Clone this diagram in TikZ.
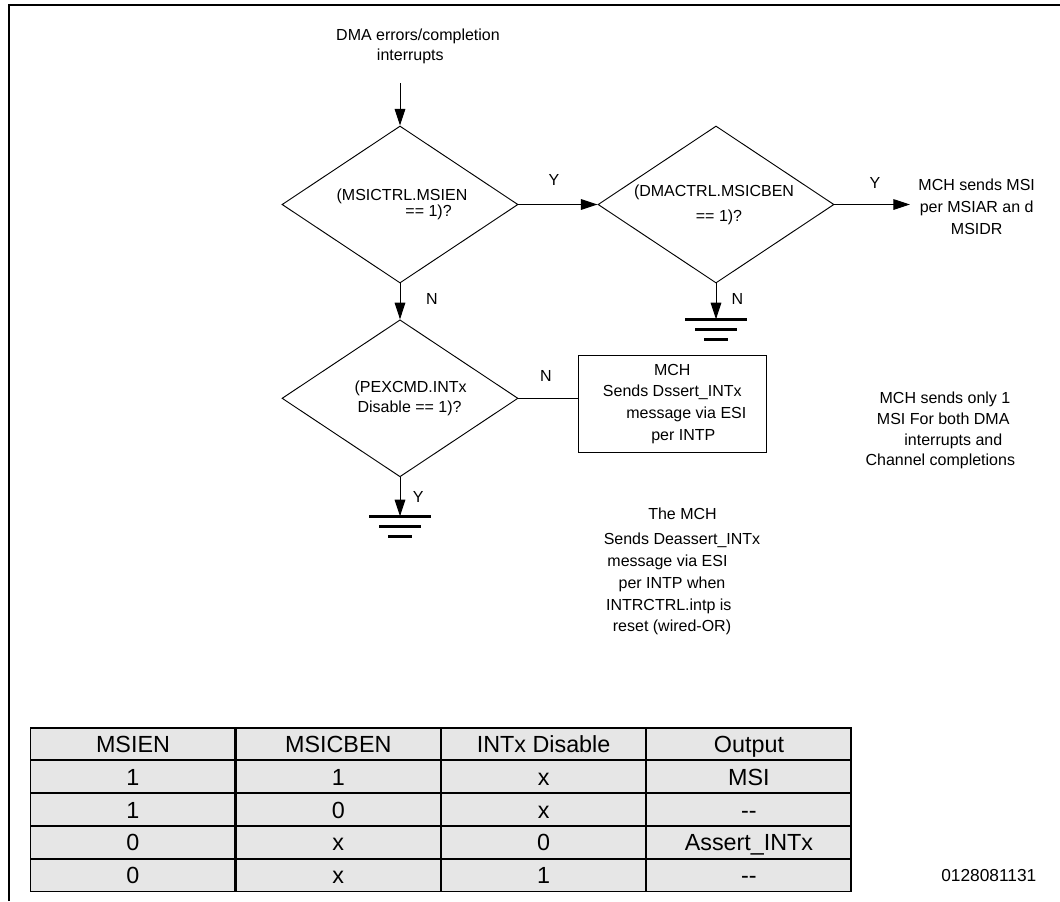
\documentclass[tikz,border=0pt]{standalone}
\usepackage{fontspec}
\setmainfont{Liberation Sans}
\usetikzlibrary{shapes.geometric,arrows.meta,matrix}
\definecolor{tblgray}{RGB}{230,230,230}
\newcommand{\sline}[2]{\makebox[0pt]{\hspace*{#1}#2}}
\begin{document}
\begin{tikzpicture}[x=0.75pt,y=-0.75pt,
  every node/.style={font=\fontsize{12pt}{16.3pt}\selectfont},
  lbl/.style={inner sep=0pt, align=center},
  dia/.style={diamond, draw, line width=0.7pt, minimum width=177pt, minimum height=117.75pt, inner sep=0pt, align=center},
  msgbox/.style={rectangle, draw, line width=0.7pt, minimum width=140.5pt, minimum height=73.3pt, inner sep=0pt, align=center},
  flow/.style={line width=0.75pt, -{Triangle[length=12.5pt,width=8pt]}},
  plain/.style={line width=0.75pt},
  gnd/.style={line width=2pt},
  frame/.style={line width=1.5pt},
  cell/.style={draw, fill=tblgray, line width=0.9pt, minimum width=153.1pt, minimum height=23.8pt, inner sep=0pt, outer sep=0pt, font=\fontsize{17.5pt}{20pt}\selectfont, text height=12.6pt, text depth=0pt}
]
\useasboundingbox (0,0) rectangle (1060,901);
\draw[frame] (9,901) -- (9,5) -- (1060,5);

% texts
\node[lbl] (t0) at (418,46.3) {\sline{0pt}{DMA errors/completion}\\[-0.8pt]\sline{-11.5pt}{interrupts}};
\coordinate (src) at (400,83);

% decisions
\node[dia] (d1) at (400,204.5) {\sline{3pt}{(MSICTRL.MSIEN}\\[-3.9pt]\sline{42.9pt}{== 1)?}};
\node[dia] (d2) at (716,204.5) {\sline{-3pt}{(DMACTRL.MSICBEN}\\[2.5pt]\sline{4.5pt}{== 1)?}};
\node[dia] (d3) at (400,398.3) {\sline{16pt}{(PEXCMD.INTx}\\[-1.3pt]\sline{14.4pt}{Disable == 1)?}};

\node[msgbox] (box) at (672.3,403.9) {\sline{0pt}{MCH}\\\sline{0pt}{Sends Dssert\_INTx}\\\sline{21pt}{message via ESI}\\\sline{16.5pt}{per INTP}};

\node[lbl] (t1) at (976.7,206.7) {\sline{0pt}{MCH sends MSI}\\\sline{0pt}{per MSIAR an d}\\\sline{0pt}{MSIDR}};
\node[lbl] (t2) at (945,430.5) {\sline{0pt}{MCH sends only 1}\\[-0.7pt]\sline{-2.7pt}{MSI For both DMA}\\[-0.7pt]\sline{12.5pt}{interrupts and}\\[-0.7pt]\sline{-7pt}{Channel completions}};
\node[lbl] (t3) at (672,571.4) {\sline{15.75pt}{The MCH}\\[3pt]\sline{15pt}{Sends Deassert\_INTx}\\\sline{-6.75pt}{message via ESI}\\\sline{0pt}{per INTP when}\\\sline{-4.8pt}{INTRCTRL.intp is}\\\sline{0pt}{reset (wired-OR)}};

% edge labels
\node[lbl] (ly1) at (554,180) {Y};
\node[lbl] (ly2) at (875,183.3) {Y};
\node[lbl] (ln1) at (431.8,299.3) {N};
\node[lbl] (ln2) at (737.5,299.3) {N};
\node[lbl] (ln3) at (546,375.7) {N};
\node[lbl] (ly3) at (418.3,496.7) {Y};

% connectors
\coordinate (out) at (910,204.5);
\coordinate (g1) at (400,516.3);
\coordinate (g2) at (716,319.3);
\draw[flow] (src) -- (d1.north);
\draw[flow] (d1.east) -- (d2.west);
\draw[flow] (d2.east) -- (out);
\draw[flow] (d1.south) -- (d3.north);
\draw[flow] (d2.south) -- (g2);
\draw[flow] (d3.south) -- (g1);
\draw[plain] (d3.east) -- (d3.east -| box.west);

% grounds
\draw[gnd] (g1) ++(-31,0) -- ++(62,0) (g1) ++(-21,10) -- ++(42,0) (g1) ++(-11.75,20) -- ++(23.5,0);
\draw[gnd] (g2) ++(-31,0) -- ++(62,0) (g2) ++(-21,10) -- ++(42,0) (g2) ++(-11.75,20) -- ++(23.5,0);

% table
\matrix (tbl) [matrix of nodes, anchor=north west, inner sep=0pt, outer sep=0pt, column sep=0pt, row sep=0pt, nodes={cell}] at (30.3,727.3) {
MSIEN & MSICBEN & INTx Disable & Output\\
1 & 1 & x & MSI\\
1 & 0 & x & {-}{-}\\
0 & x & 0 & Assert\_INTx\\
0 & x & 1 & {-}{-}\\
};

\node[lbl, font=\fontsize{13pt}{15pt}\selectfont] (fig) at (988.8,876) {0128081131};
\end{tikzpicture}
\end{document}
